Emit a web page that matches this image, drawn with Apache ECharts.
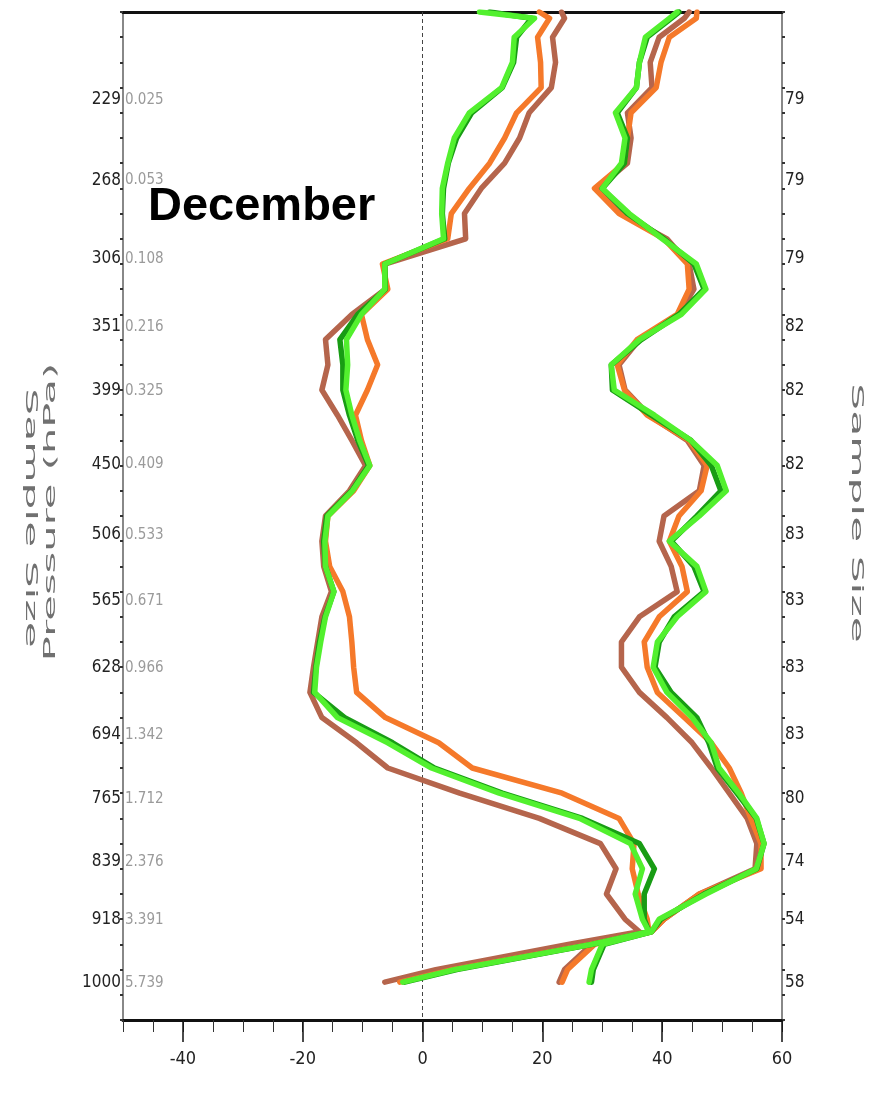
<!DOCTYPE html>
<html>
<head>
<meta charset="utf-8">
<script src="https://cdn.jsdelivr.net/npm/echarts@6/dist/echarts.min.js"></script>
<style>
  html, body { margin: 0; padding: 0; background: #fff; }
  #chart { width: 871px; height: 1110px; }
</style>
</head>
<body>
<div id="chart"></div>
<script>
// Vertical model-level coordinate (0 = top of the plot, grows downward)
const levels = [0, 0.25, 1, 2, 3, 4, 5, 6, 7, 8, 9, 10, 11, 12, 13, 14, 15, 16, 17, 18,
  19, 20, 21, 22, 23, 24, 25, 26, 27, 28, 29, 30, 31, 32, 33, 34, 35, 36, 36.5, 37, 38, 38.5];

// Left group of profiles
const biasBrown = [23.2, 23.7, 21.7, 22.2, 21.5, 17.8, 16.2, 13.7, 9.8, 7.0, 7.2, -6.3, -6.2, -11.8,
  -16.2, -15.8, -16.8, -14.2, -11.8, -9.5, -12.2, -16.2, -16.8, -16.5, -15.2, -16.8, -17.5, -18.2,
  -18.8, -16.8, -11.0, -5.8, 6.2, 19.5, 29.7, 32.3, 30.7, 33.8, 36.2, 24.3, 2.2, -6.3];
const biasOrange = [19.5, 21.2, 19.2, 19.7, 19.8, 15.7, 13.7, 11.2, 7.8, 4.8, 4.2, -6.7, -5.8, -10.2,
  -9.2, -7.5, -9.2, -11.2, -10.2, -8.8, -11.5, -15.8, -16.2, -15.5, -13.3, -12.2, -11.8, -11.5,
  -11.0, -6.2, 2.7, 8.3, 23.3, 32.8, 35.3, 35.0, 36.0, 37.5, 37.8, 28.0, 5.0, -3.8];
const biasDarkGreen = [11.2, 18.2, 15.7, 15.2, 13.3, 8.2, 5.7, 4.3, 3.5, 3.3, 3.7, -6.3, -6.2, -10.8,
  -13.8, -13.3, -13.3, -12.2, -10.8, -9.0, -11.8, -16.0, -16.5, -16.2, -14.8, -16.3, -17.2, -17.8,
  -18.2, -13.0, -5.0, 2.0, 13.3, 26.7, 36.2, 38.7, 37.0, 37.0, 37.8, 28.3, 5.7, -3.0];
const biasLightGreen = [9.5, 18.7, 15.3, 15.0, 13.2, 7.8, 5.3, 4.2, 3.3, 3.2, 3.5, -6.3, -6.3, -10.2,
  -12.7, -12.5, -12.8, -11.8, -10.5, -8.8, -11.7, -15.8, -16.3, -16.2, -14.8, -16.2, -17.0, -17.7,
  -18.0, -14.2, -5.8, 1.5, 12.8, 26.2, 34.7, 36.7, 35.5, 36.7, 37.8, 28.2, 5.3, -3.3];

// Right group of profiles
const rmsBrown = [44.5, 43.7, 39.5, 38.0, 38.3, 34.2, 34.8, 34.2, 29.2, 33.2, 40.8, 44.5, 45.3, 42.8,
  36.2, 32.8, 33.8, 37.8, 44.2, 47.0, 46.2, 40.3, 39.5, 41.5, 42.5, 36.2, 33.2, 33.2, 36.2, 40.8,
  45.0, 48.2, 51.2, 54.2, 55.8, 55.5, 46.2, 40.3, 38.2, 28.2, 23.7, 22.8];
const rmsOrange = [45.8, 45.7, 41.2, 39.8, 39.0, 34.8, 34.2, 33.7, 28.7, 32.8, 40.3, 44.2, 44.5, 42.5,
  35.8, 32.5, 33.7, 37.5, 44.5, 47.5, 46.5, 42.8, 41.2, 43.3, 44.2, 39.5, 37.0, 37.5, 39.2, 43.7,
  48.2, 51.2, 53.2, 54.8, 56.5, 56.5, 46.2, 40.3, 38.2, 28.7, 24.2, 23.3];
const rmsDarkGreen = [42.8, 41.5, 37.5, 36.2, 35.7, 32.5, 34.2, 33.7, 30.0, 34.2, 40.3, 45.3, 47.0, 42.8,
  36.5, 31.5, 31.7, 38.2, 44.8, 48.2, 49.8, 45.8, 41.5, 45.3, 47.0, 42.0, 39.5, 38.8, 41.5, 45.8,
  47.8, 49.2, 52.5, 55.7, 57.0, 55.8, 47.0, 39.8, 38.2, 30.3, 28.5, 28.2];
const rmsLightGreen = [42.5, 41.2, 37.2, 36.2, 35.7, 32.2, 33.8, 33.2, 30.0, 34.5, 40.0, 45.7, 47.3, 43.2,
  36.2, 31.5, 32.0, 38.7, 44.8, 49.2, 50.7, 46.2, 41.2, 45.8, 47.3, 42.5, 39.2, 38.5, 40.8, 45.0,
  48.2, 49.5, 52.8, 55.8, 57.0, 55.7, 47.3, 39.5, 38.2, 30.0, 28.2, 27.8];

// Axis annotation
const labelLevels = [3.49, 6.67, 9.80, 12.50, 15.04, 17.94, 20.75, 23.37, 26.03, 28.69, 31.23, 33.73, 36.03, 38.53];
const pressureLabels = ['229', '268', '306', '351', '399', '450', '506', '565', '628', '694', '765', '839', '918', '1000'];
const ratioLabels = ['0.025', '0.053', '0.108', '0.216', '0.325', '0.409', '0.533', '0.671', '0.966',
  '1.342', '1.712', '2.376', '3.391', '5.739'];
const sampleLabels = ['79', '79', '79', '82', '82', '82', '83', '83', '83', '83', '80', '74', '54', '58'];
const xMajorTicks = [-40, -20, 0, 20, 40, 60];
const levelTicks = [];
for (let i = 0; i <= 40; i++) levelTicks.push(i);

const COLORS = { brown: '#b5654c', orange: '#f5792a', darkGreen: '#189c14', lightGreen: '#52f02e' };
const NARROW = "'Liberation Sans Narrow', 'DejaVu Sans Condensed', 'Liberation Sans', sans-serif";

function labelAt(list) {
  return function (v) {
    let best = 0, d = Infinity;
    for (let i = 0; i < labelLevels.length; i++) {
      const dd = Math.abs(labelLevels[i] - v);
      if (dd < d) { d = dd; best = i; }
    }
    return list[best];
  };
}

function profile(name, values, color) {
  return {
    name: name,
    type: 'line',
    data: levels.map((lv, i) => [values[i], lv]),
    xAxisIndex: 0,
    yAxisIndex: 0,
    showSymbol: false,
    symbol: 'none',
    smooth: false,
    lineStyle: { color: color, width: 5.5, cap: 'round', join: 'round' },
    itemStyle: { color: color },
    z: 3
  };
}

const series = [
  profile('bias-brown', biasBrown, COLORS.brown),
  profile('rms-brown', rmsBrown, COLORS.brown),
  profile('bias-orange', biasOrange, COLORS.orange),
  profile('rms-orange', rmsOrange, COLORS.orange),
  profile('bias-darkgreen', biasDarkGreen, COLORS.darkGreen),
  profile('rms-darkgreen', rmsDarkGreen, COLORS.darkGreen),
  profile('bias-lightgreen', biasLightGreen, COLORS.lightGreen),
  profile('rms-lightgreen', rmsLightGreen, COLORS.lightGreen)
];
// dashed zero line
series[0].markLine = {
  silent: true,
  symbol: ['none', 'none'],
  label: { show: false },
  lineStyle: { type: [4, 3], color: '#444', width: 1 },
  data: [{ xAxis: 0 }],
  z: 1
};

const levelAxisBase = {
  type: 'value',
  inverse: true,
  min: 0,
  max: 40,
  splitLine: { show: false }
};

const chart = echarts.init(document.getElementById('chart'), null, { renderer: 'canvas' });
chart.setOption({
  animation: false,
  backgroundColor: '#fff',
  title: {
    text: 'December',
    left: 148,
    top: 184,
    padding: 0,
    textStyle: { fontSize: 47, fontWeight: 'bold', color: '#000', fontFamily: "'Liberation Sans', Arial, sans-serif" }
  },
  grid: { left: 123, right: 89, top: 12, bottom: 90, containLabel: false },
  xAxis: [
    {
      type: 'value', position: 'bottom', min: -50, max: 60, interval: 5,
      axisLine: { show: true, onZero: false, lineStyle: { color: '#111', width: 3 } },
      axisTick: { show: true, length: 12, lineStyle: { color: '#333', width: 1 } },
      axisLabel: { customValues: xMajorTicks, margin: 30, fontSize: 18, color: '#222', fontFamily: NARROW },
      splitLine: { show: false }
    },
    {
      type: 'value', position: 'bottom', min: -50, max: 60,
      axisLine: { show: false, onZero: false },
      axisTick: { show: true, customValues: xMajorTicks, length: 22, lineStyle: { color: '#111', width: 1.5 } },
      axisLabel: { show: false },
      splitLine: { show: false }
    },
    {
      type: 'value', position: 'top', min: -50, max: 60,
      axisLine: { show: true, onZero: false, lineStyle: { color: '#111', width: 3 } },
      axisTick: { show: false },
      axisLabel: { show: false },
      splitLine: { show: false }
    }
  ],
  yAxis: [
    Object.assign({}, levelAxisBase, {
      position: 'left',
      axisLine: { show: true, onZero: false, lineStyle: { color: '#888', width: 2 } },
      axisTick: { show: true, customValues: levelTicks, length: 3, lineStyle: { color: '#333', width: 2 } },
      axisLabel: { customValues: labelLevels, formatter: labelAt(pressureLabels), margin: 2,
        fontSize: 17, color: '#222', fontFamily: NARROW }
    }),
    Object.assign({}, levelAxisBase, {
      position: 'left',
      axisLine: { show: false, onZero: false },
      axisTick: { show: false },
      axisLabel: { customValues: labelLevels, formatter: labelAt(ratioLabels), inside: true, margin: 2,
        fontSize: 15, color: '#9a9a9a', fontFamily: NARROW }
    }),
    Object.assign({}, levelAxisBase, {
      position: 'right',
      axisLine: { show: true, onZero: false, lineStyle: { color: '#888', width: 2 } },
      axisTick: { show: true, customValues: levelTicks, length: 3, lineStyle: { color: '#333', width: 2 } },
      axisLabel: { customValues: labelLevels, formatter: labelAt(sampleLabels), margin: 3,
        fontSize: 17, color: '#222', fontFamily: NARROW }
    })
  ],
  graphic: [
    {
      type: 'text', x: 30, y: 518, rotation: -Math.PI / 2, scaleX: 2.65, scaleY: 1,
      style: { text: 'Sample Size', fill: '#707070', fontSize: 16, fontFamily: "'DejaVu Sans', sans-serif",
        align: 'center', verticalAlign: 'middle' }
    },
    {
      type: 'text', x: 51, y: 512, rotation: Math.PI / 2, scaleX: 2.6, scaleY: 1,
      style: { text: 'Pressure (hPa)', fill: '#707070', fontSize: 16, fontFamily: "'DejaVu Sans', sans-serif",
        align: 'center', verticalAlign: 'middle' }
    },
    {
      type: 'text', x: 856, y: 513, rotation: -Math.PI / 2, scaleX: 2.65, scaleY: 1,
      style: { text: 'Sample Size', fill: '#707070', fontSize: 16, fontFamily: "'DejaVu Sans', sans-serif",
        align: 'center', verticalAlign: 'middle' }
    }
  ],
  series: series
});
</script>
</body>
</html>
